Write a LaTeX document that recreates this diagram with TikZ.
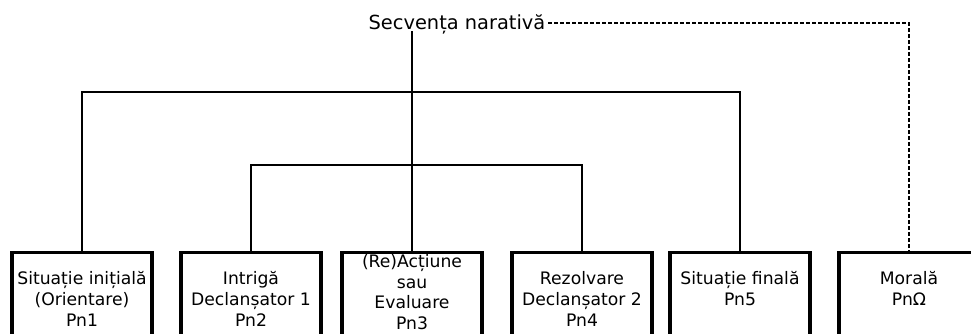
\documentclass[tikz,border=0pt]{standalone}
\usepackage{fontspec}
\setmainfont{DejaVu Sans}
\begin{document}
\begin{tikzpicture}[x=1pt,y=-1pt,
  boxst/.style={draw, line width=3.5pt, inner sep=0pt, minimum width=140pt, minimum height=100pt, anchor=north},
  txt/.style={align=center, inner sep=0pt, anchor=base, font=\fontsize{17.2pt}{21pt}\selectfont},
  conn/.style={line width=1.3pt},
  dconn/.style={line width=1.5pt, dash pattern=on 4pt off 2pt}]
\useasboundingbox (0,0) rectangle (971,333);
\clip (0,0) rectangle (971,333);
\node[inner sep=2.5pt, anchor=base, font=\fontsize{19.4pt}{23pt}\selectfont] (t) at (457,29) {Secvența narativă};
\node[boxst] (b1) at (82,250.5) {};
\node[boxst] (b2) at (251,250.5) {};
\node[boxst] (b3) at (412,250.5) {};
\node[boxst] (b4) at (582,250.5) {};
\node[boxst] (b5) at (740,250.5) {};
\node[boxst] (b6) at (909,250.5) {};
\node[txt] (l1) at (82,326) {Situație inițială\\(Orientare)\\Pn1};
\node[txt] (l2) at (251,326) {Intrigă\\Declanșator 1\\Pn2};
\node[txt, font=\fontsize{17.2pt}{20.5pt}\selectfont] (l3) at (412,329) {(Re)Acțiune\\sau\\Evaluare\\Pn3};
\node[txt] (l4) at (582,326) {Rezolvare\\Declanșator 2\\Pn4};
\node[txt] (l5) at (740,305) {Situație finală\\Pn5};
\node[txt] (l6) at (909,305) {Morală\\PnΩ};
\coordinate (j1) at (412,92);
\coordinate (j2) at (412,165);
\draw[conn] ([yshift=-2pt]j1 |- t.base) -- (j1);
\draw[conn] (b1.north) |- (j1) -| (b5.north);
\draw[conn] (b2.north) |- (j2) -| (b4.north);
\draw[conn] (j1) -- (b3.north);
\draw[dconn] ([yshift=6pt]t.base east) -| (b6.north);
\end{tikzpicture}
\end{document}
